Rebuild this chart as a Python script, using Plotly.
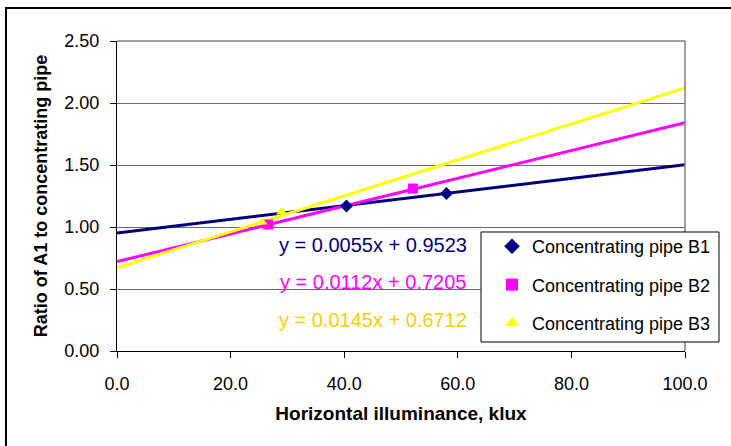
import numpy as np
import plotly.graph_objects as go

series_names = ["Concentrating pipe B1", "Concentrating pipe B2", "Concentrating pipe B3"]
b1_x = [40.4, 58.0]
b1_y = [1.17, 1.27]
b2_x = [26.6, 52.1]
b2_y = [1.02, 1.31]
b3_x = [25.5, 29.0]
b3_y = [1.04, 1.12]
slopes = [0.0055, 0.0112, 0.0145]
intercepts = [0.9523, 0.7205, 0.6712]
equations = ["y = 0.0055x + 0.9523", "y = 0.0112x + 0.7205", "y = 0.0145x + 0.6712"]
x_ticks = [0, 20, 40, 60, 80, 100]
y_ticks = [0, 0.5, 1.0, 1.5, 2.0, 2.5]

colors = ["#000080", "#FF00FF", "#FFFF00"]
eq_colors = ["#000080", "#FF00FF", "#FFCC00"]
symbols = ["diamond", "square", "triangle-up"]

L, R, T, B = 117, 685, 41, 351
PW, PH = R - L, B - T


def px(x):
    return (x - L) / PW


def py(y):
    return (B - y) / PH


fig = go.Figure()
trend_x = np.array([0.0, 100.0])
for s, b, c in zip(slopes, intercepts, colors):
    fig.add_trace(go.Scatter(x=trend_x, y=s * trend_x + b, mode="lines",
                             line=dict(color=c, width=3), showlegend=False, hoverinfo="skip"))

for i, (name, xs, ys, c, sym) in enumerate(zip(series_names, [b1_x, b2_x, b3_x],
                                                [b1_y, b2_y, b3_y], colors, symbols)):
    fig.add_trace(go.Scatter(x=xs, y=ys, mode="markers", name=name, legendgroup=f"g{i}",
                             marker=dict(color=c, symbol=sym, size=10, line=dict(width=0))))

eq_y = [245, 282, 320]
for eq, c, yy in zip(equations, eq_colors, eq_y):
    fig.add_annotation(text=eq, xref="paper", yref="paper",
                       x=px(373), y=py(yy),
                       showarrow=False, font=dict(color=c, size=20, family="Liberation Sans, Arial"),
                       xanchor="center", yanchor="middle")

# outer chart border
fig.add_shape(type="rect", xref="paper", yref="paper",
              x0=px(6), x1=1.3, y0=-0.4, y1=py(8),
              line=dict(color="black", width=2), fillcolor="rgba(0,0,0,0)", layer="below")
# gray plot-area border on top/right
fig.add_shape(type="line", xref="paper", yref="paper", x0=0, x1=1, y0=1, y1=1,
              line=dict(color="#808080", width=1.5))
fig.add_shape(type="line", xref="paper", yref="paper", x0=1, x1=1, y0=0, y1=1,
              line=dict(color="#808080", width=1.5))
# legend box
fig.add_shape(type="rect", xref="paper", yref="paper",
              x0=px(481), x1=px(719), y0=py(342), y1=py(232),
              line=dict(color="black", width=1), fillcolor="white", layer="above")

fig.update_layout(
    width=731, height=446,
    margin=dict(l=L, r=731 - R, t=T, b=446 - B),
    paper_bgcolor="white", plot_bgcolor="white",
    font=dict(family="Liberation Sans, Arial", size=18, color="black"),
    showlegend=True,
    legend=dict(x=px(492), y=py(228), xanchor="left", yanchor="top",
                bgcolor="rgba(0,0,0,0)", borderwidth=0,
                font=dict(size=18), itemsizing="constant", tracegroupgap=12),
    xaxis=dict(range=[0, 100], tickvals=x_ticks, ticktext=[f"{v:.1f}" for v in x_ticks],
               showgrid=False, zeroline=False, showline=True, linecolor="black", linewidth=1,
               ticks="outside", ticklen=6, tickcolor="black", ticklabelstandoff=10,
               tickfont=dict(size=18),
               title=dict(text="<b>Horizontal illuminance, klux</b>", font=dict(size=19), standoff=14)),
    yaxis=dict(range=[0, 2.5], tickvals=y_ticks, ticktext=[f"{v:.2f}" for v in y_ticks],
               showgrid=True, gridcolor="#6a6a6a", gridwidth=1,
               zeroline=False, showline=True, linecolor="black", linewidth=1,
               ticks="outside", ticklen=6, tickcolor="black", ticklabelstandoff=7,
               tickfont=dict(size=18),
               title=dict(text="<b>Ratio of A1 to concentrating pipe</b>", font=dict(size=18), standoff=12)),
)

fig.write_html("out.html", config={"displayModeBar": False},
               post_script="document.body.style.margin='0px';")
